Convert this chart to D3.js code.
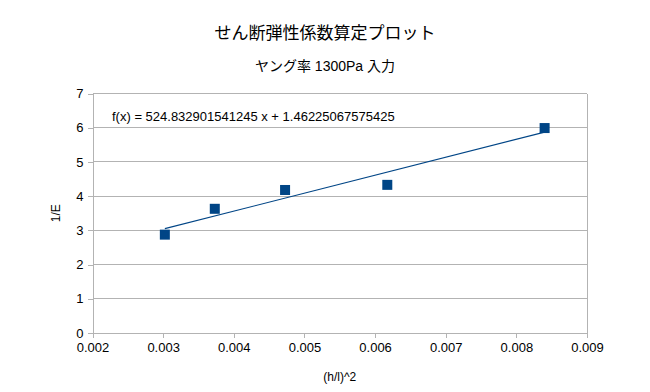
<!DOCTYPE html>
<html>
<head>
<meta charset="utf-8">
<script src="https://cdn.jsdelivr.net/npm/d3@7"></script>
<style>
  body { margin: 0; background: #fff; }
  text { font-family: "Liberation Sans", Arial, "Noto Sans CJK JP", sans-serif; fill: #000; }
</style>
</head>
<body>
<svg id="chart" width="650" height="392"></svg>
<script>
// measured points (h/l)^2 vs 1/E
const xValues = [0.003024, 0.003731, 0.004726, 0.006173, 0.0084]
const yValues = [2.875, 3.63, 4.18, 4.33, 5.99]
const slope = 524.832901541245
const intercept = 1.46225067575425
const xTicks = [0.002, 0.003, 0.004, 0.005, 0.006, 0.007, 0.008, 0.009]
const yTicks = [0, 1, 2, 3, 4, 5, 6, 7]

const title = "せん断弾性係数算定プロット"
const subtitle = "ヤング率 1300Pa 入力"
const equation = "f(x) = 524.832901541245 x + 1.46225067575425"

const margin = { left: 92.5, right: 63, top: 93.5, bottom: 59 }
const W = 650, H = 392
const width = W - margin.left - margin.right
const height = H - margin.top - margin.bottom
const blue = "#004586"
const grid = "#b3b3b3"

const svg = d3.select("#chart")

svg.append("text")
  .attr("x", 325).attr("y", 39)
  .attr("text-anchor", "middle")
  .style("font-size", "17px")
  .text(title)

svg.append("text")
  .attr("x", 325).attr("y", 71)
  .attr("text-anchor", "middle")
  .style("font-size", "14px")
  .text(subtitle)

const g = svg.append("g").attr("transform", "translate(" + margin.left + "," + margin.top + ")")

const x = d3.scaleLinear().domain([0.002, 0.009]).range([0, width])
const y = d3.scaleLinear().domain([0, 7]).range([height, 0])

// horizontal gridlines
g.selectAll(".grid")
  .data(yTicks)
  .enter().append("line")
  .attr("x1", 0).attr("x2", width)
  .attr("y1", d => y(d)).attr("y2", d => y(d))
  .attr("stroke", grid).attr("stroke-width", 1)
  .attr("shape-rendering", "crispEdges")

// plot border right
g.append("line")
  .attr("x1", width).attr("x2", width)
  .attr("y1", 0).attr("y2", height)
  .attr("stroke", grid).attr("shape-rendering", "crispEdges")

const xAxis = d3.axisBottom(x).tickValues(xTicks).tickSize(5).tickPadding(5).tickFormat(d3.format(".3f"))
const gx = g.append("g").attr("transform", "translate(0," + height + ")").call(xAxis)

const yAxis = d3.axisLeft(y).tickValues(yTicks).tickSize(5).tickPadding(4).tickFormat(d3.format("d"))
const gy = g.append("g").call(yAxis)

for (const a of [gx, gy]) {
  a.select(".domain").attr("stroke", grid).attr("shape-rendering", "crispEdges")
  a.selectAll(".tick line").attr("stroke", grid).attr("shape-rendering", "crispEdges")
  a.selectAll(".tick text")
    .style("font-family", "'Liberation Sans', Arial, sans-serif")
    .style("font-size", "13px").attr("fill", "#000")
}
gy.selectAll(".tick text").attr("x", -9)

// trend line
const x0 = d3.min(xValues), x1 = d3.max(xValues)
g.append("line")
  .attr("x1", x(x0)).attr("y1", y(slope * x0 + intercept))
  .attr("x2", x(x1)).attr("y2", y(slope * x1 + intercept))
  .attr("stroke", blue).attr("stroke-width", 1.2)

// markers
const ms = 10
g.selectAll(".pt")
  .data(xValues.map((v, i) => [v, yValues[i]]))
  .enter().append("rect")
  .attr("x", d => x(d[0]) - ms / 2)
  .attr("y", d => y(d[1]) - ms / 2)
  .attr("width", ms).attr("height", ms)
  .attr("fill", blue)

g.append("text")
  .attr("x", 112 - margin.left).attr("y", 121 - margin.top)
  .style("font-size", "13px")
  .text(equation)

svg.append("text")
  .attr("transform", "translate(60," + (margin.top + height / 2) + ") rotate(-90)")
  .attr("text-anchor", "middle")
  .style("font-size", "12px")
  .text("1/E")

svg.append("text")
  .attr("x", margin.left + width / 2).attr("y", 381)
  .attr("text-anchor", "middle")
  .style("font-size", "12px")
  .text("(h/l)^2")
</script>
</body>
</html>
